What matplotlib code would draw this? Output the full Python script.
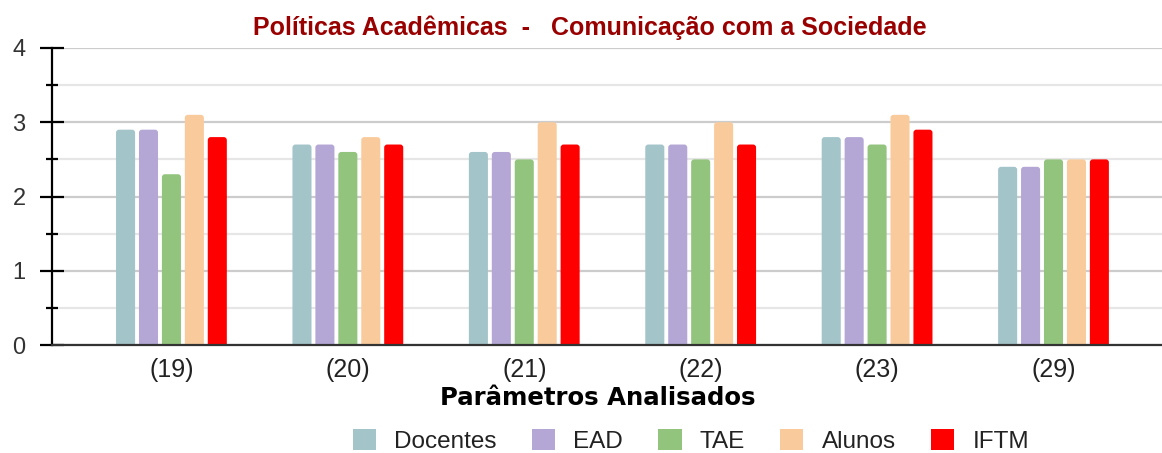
import matplotlib
matplotlib.use("Agg")
import matplotlib.pyplot as plt
import numpy as np
from matplotlib.ticker import MultipleLocator
from matplotlib.patches import FancyBboxPatch

categories = ["(19)", "(20)", "(21)", "(22)", "(23)", "(29)"]
series_names = ["Docentes", "EAD", "TAE", "Alunos", "IFTM"]
docentes = [2.9, 2.7, 2.6, 2.7, 2.8, 2.4]
ead = [2.9, 2.7, 2.6, 2.7, 2.8, 2.4]
tae = [2.3, 2.6, 2.5, 2.5, 2.7, 2.5]
alunos = [3.1, 2.8, 3.0, 3.0, 3.1, 2.5]
iftm = [2.8, 2.7, 2.7, 2.7, 2.9, 2.5]
colors = ["#a3c4c9", "#b4a7d6", "#93c47d", "#f9cb9c", "#ff0000"]

plt.rcParams['font.family'] = ['Liberation Sans', 'DejaVu Sans']

W, H = 1162, 453
fig = plt.figure(figsize=(W/100, H/100), dpi=100)
ax_left, ax_bottom_px, ax_top_px = 52, 345, 48
ax = fig.add_axes([ax_left/W, 1-ax_bottom_px/H, 1-ax_left/W, (ax_bottom_px-ax_top_px)/H])

x = np.arange(len(categories))
step = 0.130
width = 0.108
xlim = (-0.677, 5.615)
ylim = (0, 4)
ax.set_xlim(*xlim)
ax.set_ylim(*ylim)

# data units per pixel
dx_px = (xlim[1]-xlim[0]) / (W-ax_left)
dy_px = (ylim[1]-ylim[0]) / (ax_bottom_px-ax_top_px)
r_px = 3.0

all_series = [docentes, ead, tae, alunos, iftm]
for i, (vals, name, c) in enumerate(zip(all_series, series_names, colors)):
    bars = ax.bar(x + (i - 2) * step, vals, width=width, color=c, label=name, zorder=3)
    for b in bars:
        bx, by, bw, bh = b.get_x(), b.get_y(), b.get_width(), b.get_height()
        b.set_visible(False)
        p = FancyBboxPatch((bx, by - r_px*dy_px), bw, bh + r_px*dy_px,
                           boxstyle=f"round,pad=0,rounding_size={r_px*dx_px}",
                           mutation_aspect=dy_px/dx_px, facecolor=c, edgecolor='none',
                           zorder=3)
        ax.add_patch(p)

ax.yaxis.set_major_locator(MultipleLocator(1))
ax.yaxis.set_minor_locator(MultipleLocator(0.5))
ax.grid(axis='y', which='major', color='#cccccc', lw=1.6, zorder=0)
ax.grid(axis='y', which='minor', color='#e6e6e6', lw=1.6, zorder=0)
ax.set_axisbelow(True)

for s in ['top', 'right']:
    ax.spines[s].set_visible(False)
ax.spines['left'].set_color('black')
ax.spines['left'].set_linewidth(1.6)
ax.spines['left'].set_zorder(4)
ax.spines['bottom'].set_color('#333333')
ax.spines['bottom'].set_linewidth(1.6)
ax.spines['bottom'].set_zorder(4)

ax.tick_params(axis='y', which='major', direction='inout', length=17, width=1.6,
               color='black', labelsize=17, labelcolor='#333333', pad=10.5)
ax.tick_params(axis='y', which='minor', direction='inout', length=9, width=1.6, color='black')
ax.set_xticks(x)
ax.set_xticklabels(categories)
ax.tick_params(axis='x', length=0, labelsize=18, labelcolor='#222222', pad=9.5)

ax.set_xlabel("Parâmetros Analisados", fontsize=17.6, fontweight='bold', color='black',
              family=['DejaVu Sans'])
ax.xaxis.set_label_coords((598-ax_left)/(W-ax_left), -(398-ax_bottom_px)/(ax_bottom_px-ax_top_px))
ax.xaxis.label.set_va('center')

fig.text(590/W, 1-28/H, "Políticas Acadêmicas  -   Comunicação com a Sociedade",
         ha='center', va='center', fontsize=18, fontweight='bold', color='#990000')

leg = ax.legend(loc='center', bbox_to_anchor=((691-ax_left)/(W-ax_left), -(441-ax_bottom_px)/(ax_bottom_px-ax_top_px)),
                ncol=5, frameon=False, fontsize=17.5, handlelength=0.95, handleheight=0.95,
                handletextpad=0.75, columnspacing=1.45, borderpad=0, borderaxespad=0)
for t in leg.get_texts():
    t.set_color('#222222')
for h in leg.legend_handles:
    h.set_visible(True)

fig.savefig("out.png", dpi=100)
